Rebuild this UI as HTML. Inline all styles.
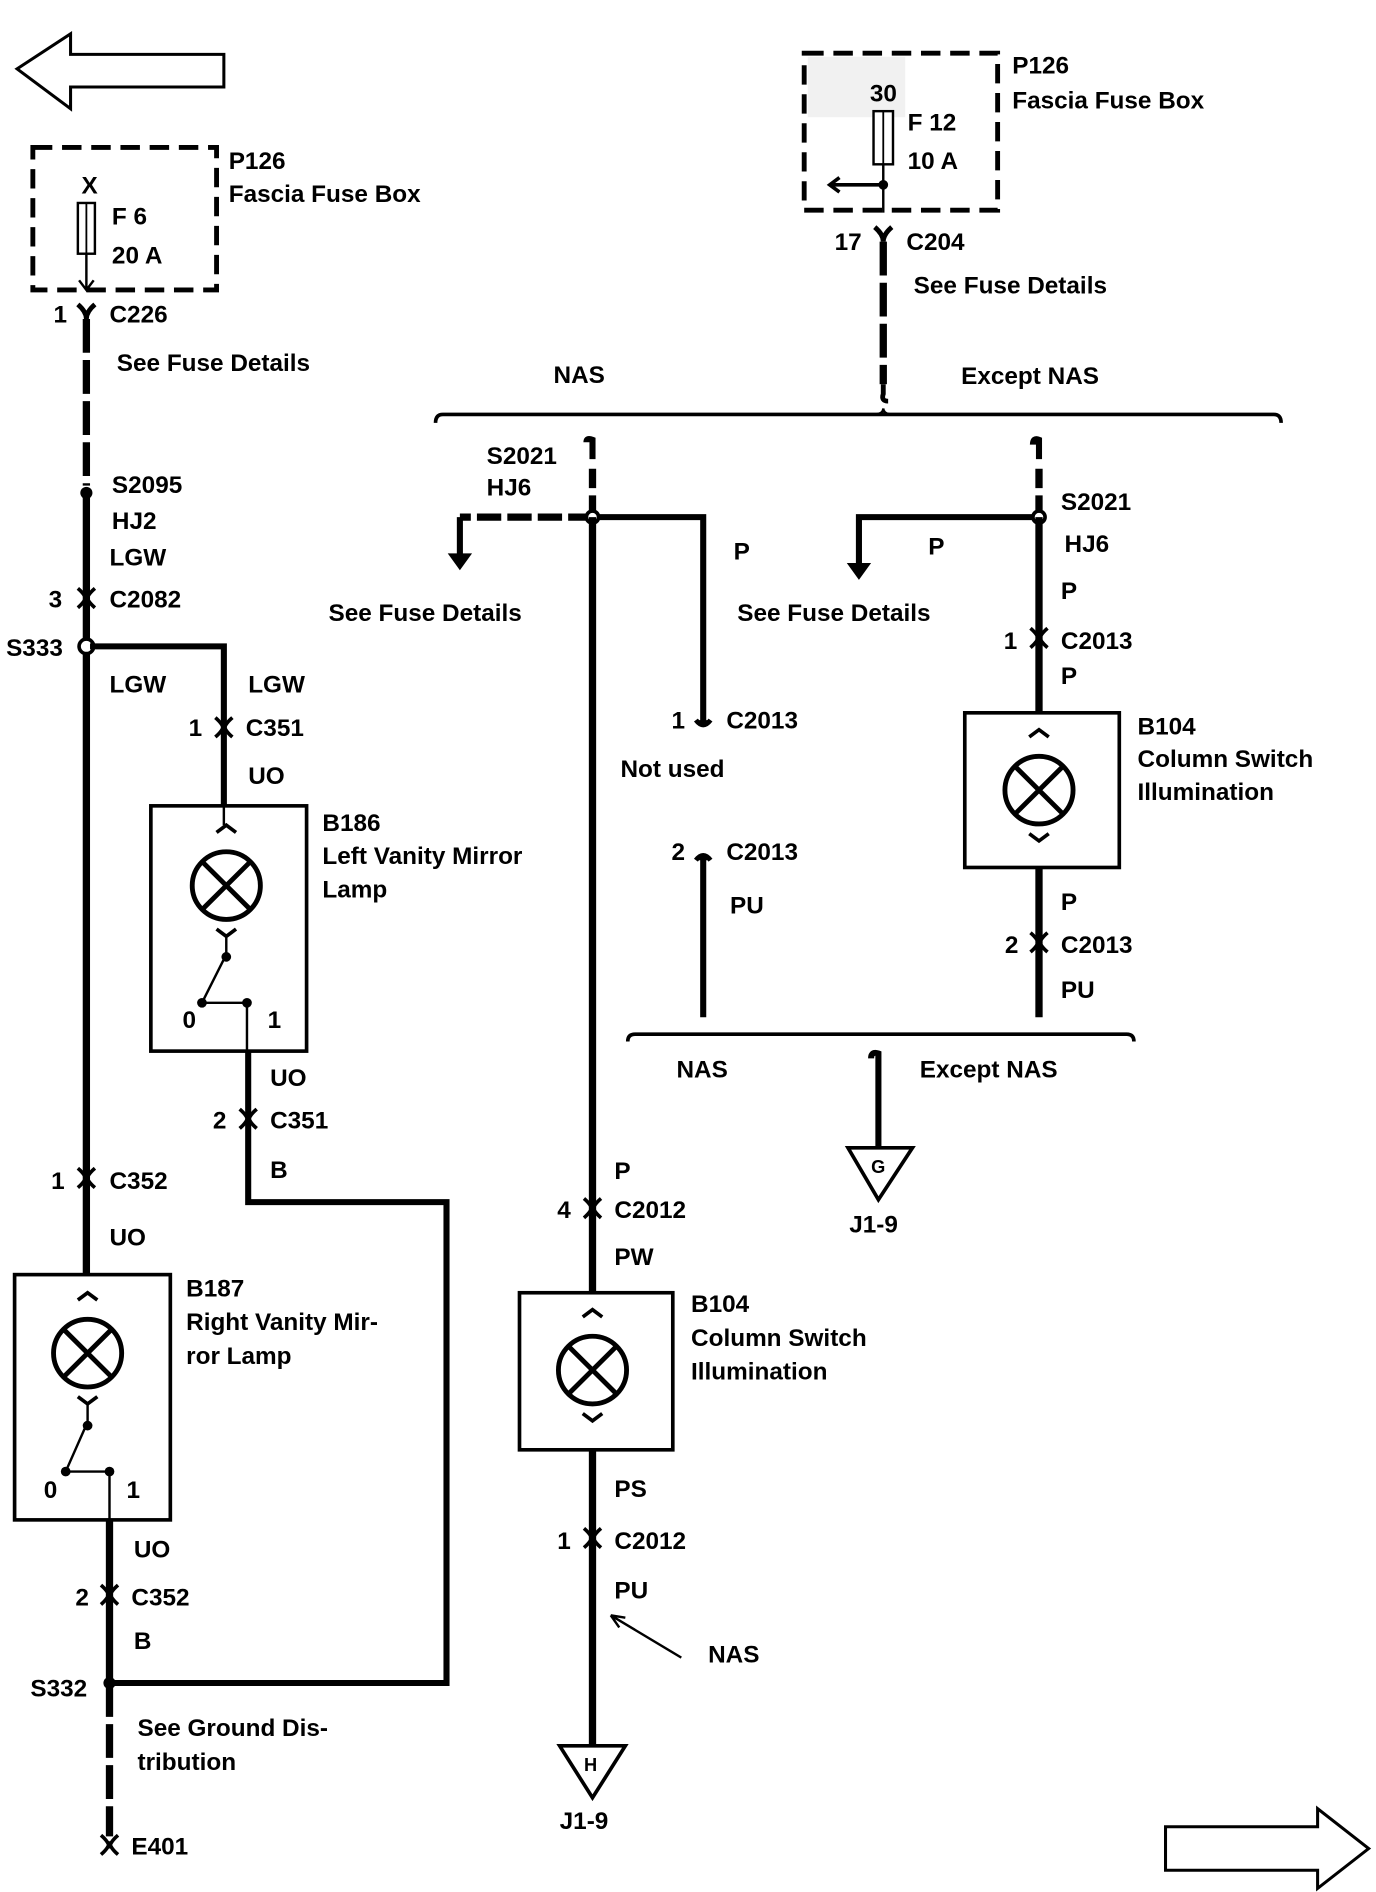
<!DOCTYPE html>
<html><head><meta charset="utf-8"><style>
html,body{margin:0;padding:0;background:#fff;}
svg{display:block;}
text{font-family:"Liberation Sans",Arial,sans-serif;font-weight:bold;font-size:20px;fill:#000;}
</style></head><body>
<svg width="1376" height="1892" viewBox="0 0 1131 1566" preserveAspectRatio="none" xmlns="http://www.w3.org/2000/svg">
<defs>
<g id="conn"><path d="M-7,-8 Q0,-2 0,3 Q0,-2 7,-8" fill="none" stroke="#000" stroke-width="3"/><path d="M-7,8 Q0,2 0,-3 Q0,2 7,8" fill="none" stroke="#000" stroke-width="3"/></g>
<g id="lamp"><circle r="28" fill="none" stroke="#000" stroke-width="4"/><path d="M-20,-20 L20,20 M20,-20 L-20,20" stroke="#000" stroke-width="4"/><path d="M-8,-44 L0,-50 L8,-44 M-8,36 L0,42 L8,36" fill="none" stroke="#000" stroke-width="3"/></g>
</defs>
<polygon points="14,57 58,28 58,45 184,45 184,72 58,72 58,90" fill="none" stroke="#000" stroke-width="2.5"/>
<polygon points="1125,1530 1083,1497 1083,1512 958,1512 958,1548 1083,1548 1083,1563" fill="none" stroke="#000" stroke-width="2.5"/>

<rect x="27" y="122" width="151" height="118" fill="none" stroke="#000" stroke-width="4" stroke-dasharray="16,8"/>
<rect x="64" y="168" width="14" height="42" fill="#fff" stroke="#000" stroke-width="2"/>
<line x1="71" y1="168" x2="71" y2="210" stroke="#000" stroke-width="1.5"/>
<path d="M71,210 L71,240 M65,232 L71,240 L77,232" fill="none" stroke="#000" stroke-width="2"/>
<text x="67" y="160">X</text><text x="92" y="186">F 6</text><text x="92" y="218">20 A</text>
<text x="188" y="140">P126</text><text x="188" y="167">Fascia Fuse Box</text>
<path d="M64,252 Q71,258 71,264 Q71,258 78,252" fill="none" stroke="#000" stroke-width="4"/>
<text x="44" y="267">1</text><text x="90" y="267">C226</text>
<line x1="71" y1="264" x2="71" y2="402" stroke="#000" stroke-width="6" stroke-dasharray="28,6"/>
<text x="96" y="307">See Fuse Details</text>
<circle cx="71" cy="408" r="5"/>
<text x="92" y="408">S2095</text><text x="92" y="438">HJ2</text><text x="90" y="468">LGW</text>
<line x1="71" y1="408" x2="71" y2="1055" stroke="#000" stroke-width="6"/>
<use href="#conn" x="71" y="495"/><text x="40" y="503">3</text><text x="90" y="503">C2082</text>
<circle cx="71" cy="535" r="6" fill="#fff" stroke="#000" stroke-width="3"/>
<text x="5" y="543">S333</text>
<polyline points="74,535 184,535 184,667" fill="none" stroke="#000" stroke-width="5"/>
<text x="90" y="573">LGW</text><text x="204" y="573">LGW</text>
<use href="#conn" x="184" y="602"/><text x="155" y="609">1</text><text x="202" y="609">C351</text>
<text x="204" y="649">UO</text>
<rect x="124" y="667" width="128" height="203" fill="none" stroke="#000" stroke-width="3"/>
<line x1="184" y1="667" x2="184" y2="683" stroke="#000" stroke-width="2"/>
<use href="#lamp" x="186" y="733"/>
<path d="M186,775 L186,790 L166,830 M166,830 L203,830 M203,830 L203,870" fill="none" stroke="#000" stroke-width="2"/>
<circle cx="186" cy="792" r="4"/><circle cx="166" cy="830" r="4"/><circle cx="203" cy="830" r="4"/>
<text x="150" y="851">0</text><text x="220" y="851">1</text>
<text x="265" y="688">B186</text><text x="265" y="715">Left Vanity Mirror</text><text x="265" y="743">Lamp</text>
<polyline points="204,870 204,995 367,995 367,1393 90,1393" fill="none" stroke="#000" stroke-width="5"/>
<text x="222" y="899">UO</text>
<use href="#conn" x="204" y="926"/><text x="175" y="934">2</text><text x="222" y="934">C351</text>
<text x="222" y="975">B</text>
<use href="#conn" x="71" y="975"/><text x="42" y="984">1</text><text x="90" y="984">C352</text>
<text x="90" y="1031">UO</text>
<rect x="12" y="1055" width="128" height="203" fill="none" stroke="#000" stroke-width="3"/>
<use href="#lamp" x="72" y="1120"/>
<path d="M72,1162 L72,1177 L54,1218 M54,1218 L90,1218 M90,1218 L90,1258" fill="none" stroke="#000" stroke-width="2"/>
<circle cx="72" cy="1180" r="4"/><circle cx="54" cy="1218" r="4"/><circle cx="90" cy="1218" r="4"/>
<text x="36" y="1240">0</text><text x="104" y="1240">1</text>
<text x="153" y="1073">B187</text><text x="153" y="1101">Right Vanity Mir-</text><text x="153" y="1129">ror Lamp</text>
<line x1="90" y1="1258" x2="90" y2="1393" stroke="#000" stroke-width="6"/>
<text x="110" y="1289">UO</text>
<use href="#conn" x="90" y="1320"/><text x="62" y="1329">2</text><text x="108" y="1329">C352</text>
<text x="110" y="1365">B</text>
<circle cx="90" cy="1393" r="5"/>
<text x="25" y="1404">S332</text>
<line x1="90" y1="1393" x2="90" y2="1520" stroke="#000" stroke-width="6" stroke-dasharray="28,6"/>
<text x="113" y="1437">See Ground Dis-</text><text x="113" y="1465">tribution</text>
<use href="#conn" x="90" y="1527"/><text x="108" y="1535">E401</text>

<rect x="661" y="44" width="159" height="130" fill="none" stroke="#000" stroke-width="4" stroke-dasharray="16,8"/>
<rect x="664" y="47" width="80" height="50" fill="#ddd" opacity="0.4"/>
<rect x="718" y="92" width="16" height="44" fill="#fff" stroke="#000" stroke-width="2"/>
<line x1="726" y1="92" x2="726" y2="136" stroke="#000" stroke-width="1.5"/>
<text x="715" y="84">30</text><text x="746" y="108">F 12</text><text x="746" y="140">10 A</text>
<line x1="726" y1="136" x2="726" y2="176" stroke="#000" stroke-width="2"/>
<circle cx="726" cy="153" r="4"/>
<path d="M726,153 L682,153 M690,147 L682,153 L690,159" fill="none" stroke="#000" stroke-width="3"/>
<text x="832" y="61">P126</text><text x="832" y="90">Fascia Fuse Box</text>
<path d="M719,188 Q726,194 726,200 Q726,194 733,188" fill="none" stroke="#000" stroke-width="4"/>
<text x="686" y="207">17</text><text x="745" y="207">C204</text>
<line x1="726" y1="200" x2="726" y2="318" stroke="#000" stroke-width="6" stroke-dasharray="28,6"/>
<path d="M726,318 L726,326 Q724,332 730,332" fill="none" stroke="#000" stroke-width="4"/>
<text x="751" y="243">See Fuse Details</text>
<text x="455" y="317">NAS</text><text x="790" y="318">Except NAS</text>
<path d="M358,350 Q358,343 364,343 L1047,343 Q1053,343 1053,350" fill="none" stroke="#000" stroke-width="3"/>
<path d="M718,343 Q726,343 726,338 Q726,343 734,343" fill="none" stroke="#000" stroke-width="2"/>

<path d="M482,366 Q482,362 487,364 L487,380" fill="none" stroke="#000" stroke-width="5"/>
<text x="400" y="384">S2021</text><text x="400" y="410">HJ6</text>
<line x1="487" y1="388" x2="487" y2="428" stroke="#000" stroke-width="6" stroke-dasharray="16,6"/>
<line x1="487" y1="428" x2="378" y2="428" stroke="#000" stroke-width="6" stroke-dasharray="20,5"/>
<path d="M378,428 L378,462" stroke="#000" stroke-width="5"/>
<polygon points="368,458 388,458 378,472"/>
<polyline points="487,428 578,428 578,600" fill="none" stroke="#000" stroke-width="5"/>
<circle cx="487" cy="428" r="5" fill="#fff" stroke="#000" stroke-width="3"/>
<text x="603" y="463">P</text>
<text x="270" y="514">See Fuse Details</text>
<path d="M572,596 Q578,604 584,596" fill="#000" stroke="#000" stroke-width="4"/>
<text x="552" y="603">1</text><text x="597" y="603">C2013</text>
<text x="510" y="643">Not used</text>
<path d="M572,712 Q578,704 584,712" fill="#000" stroke="#000" stroke-width="4"/>
<text x="552" y="712">2</text><text x="597" y="712">C2013</text>
<line x1="578" y1="710" x2="578" y2="842" stroke="#000" stroke-width="5"/>
<text x="600" y="756">PU</text>
<line x1="487" y1="428" x2="487" y2="1070" stroke="#000" stroke-width="6"/>
<text x="505" y="976">P</text>
<use href="#conn" x="487" y="1000"/><text x="458" y="1008">4</text><text x="505" y="1008">C2012</text>
<text x="505" y="1047">PW</text>
<rect x="427" y="1070" width="126" height="130" fill="none" stroke="#000" stroke-width="3"/>
<use href="#lamp" x="487" y="1134"/>
<text x="568" y="1086">B104</text><text x="568" y="1114">Column Switch</text><text x="568" y="1142">Illumination</text>
<line x1="487" y1="1200" x2="487" y2="1445" stroke="#000" stroke-width="6"/>
<text x="505" y="1239">PS</text>
<use href="#conn" x="487" y="1273"/><text x="458" y="1282">1</text><text x="505" y="1282">C2012</text>
<text x="505" y="1323">PU</text>
<path d="M560,1372 L502,1337 M502,1337 L514,1339 M502,1337 L509,1347" fill="none" stroke="#000" stroke-width="2"/>
<text x="582" y="1376">NAS</text>
<polygon points="460,1445 514,1445 487,1488" fill="#fff" stroke="#000" stroke-width="3"/>
<text x="480" y="1466" style="font-size:15px">H</text>
<text x="460" y="1514">J1-9</text>

<path d="M849,368 Q849,362 854,364 L854,380" fill="none" stroke="#000" stroke-width="5"/>
<line x1="854" y1="388" x2="854" y2="428" stroke="#000" stroke-width="6" stroke-dasharray="16,6"/>
<polyline points="854,428 706,428 706,470" fill="none" stroke="#000" stroke-width="5"/>
<polygon points="696,466 716,466 706,480"/>
<circle cx="854" cy="428" r="5" fill="#fff" stroke="#000" stroke-width="3"/>
<line x1="854" y1="428" x2="854" y2="590" stroke="#000" stroke-width="6"/>
<text x="872" y="422">S2021</text><text x="875" y="457">HJ6</text>
<text x="763" y="459">P</text><text x="606" y="514">See Fuse Details</text>
<text x="872" y="496">P</text>
<use href="#conn" x="854" y="528"/><text x="825" y="537">1</text><text x="872" y="537">C2013</text>
<text x="872" y="566">P</text>
<rect x="793" y="590" width="127" height="128" fill="none" stroke="#000" stroke-width="3"/>
<use href="#lamp" x="854" y="654"/>
<text x="935" y="608">B104</text><text x="935" y="635">Column Switch</text><text x="935" y="662">Illumination</text>
<line x1="854" y1="718" x2="854" y2="842" stroke="#000" stroke-width="6"/>
<text x="872" y="753">P</text>
<use href="#conn" x="854" y="780"/><text x="826" y="789">2</text><text x="872" y="789">C2013</text>
<text x="872" y="826">PU</text>
<path d="M516,862 Q516,856 522,856 L926,856 Q932,856 932,862" fill="none" stroke="#000" stroke-width="3"/>
<text x="556" y="892">NAS</text><text x="756" y="892">Except NAS</text>
<path d="M716,876 Q716,870 722,872 L722,950" fill="none" stroke="#000" stroke-width="5"/>
<polygon points="697,950 750,950 722,993" fill="#fff" stroke="#000" stroke-width="3"/>
<text x="716" y="971" style="font-size:15px">G</text>
<text x="698" y="1020">J1-9</text>
</svg>
</body></html>
